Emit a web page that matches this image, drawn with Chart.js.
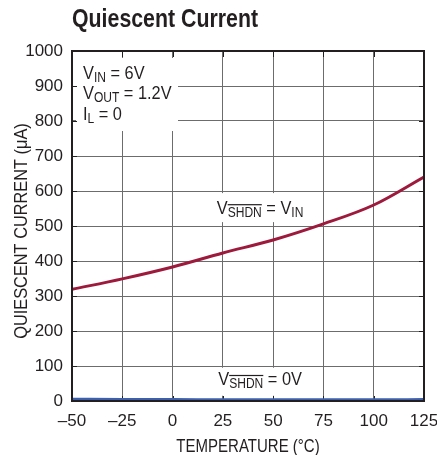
<!DOCTYPE html>
<html>
<head>
<meta charset="utf-8">
<script src="https://cdn.jsdelivr.net/npm/chart.js@4"></script>
<style>
  html, body { margin: 0; padding: 0; background: #fff; }
  #wrap { width: 437px; height: 455px; }
</style>
</head>
<body>
<div id="wrap"><canvas id="chart" width="437" height="455"></canvas></div>
<script>
const temps = [-50, -25, 0, 25, 50, 75, 100, 125];
const currentOn = [319, 349, 383, 423, 460, 506, 560, 640];
const currentOff = [6, 5, 5, 4, 4, 4, 4, 5];
const xTicks = [-50, -25, 0, 25, 50, 75, 100, 125];
const yTicks = [0, 100, 200, 300, 400, 500, 600, 700, 800, 900, 1000];

const ink = "#231f20";
const sans = "'Liberation Sans', Arial, sans-serif";

// text squeezed horizontally to look like the condensed face
function squeezed(ctx, text, x, y, font, sx, align) {
    ctx.save();
    ctx.font = font;
    ctx.textAlign = align || "left";
    ctx.translate(x, y);
    ctx.scale(sx, 1);
    ctx.fillText(text, 0, 0);
    ctx.restore();
}

// "V" + subscript + rest, condensed
function richText(ctx, parts, x, y, align) {
    const sx = 0.86;
    let total = 0;
    parts.forEach(p => {
        ctx.font = (p.sub ? "14px " : "19px ") + sans;
        p.w = ctx.measureText(p.t).width * sx;
        total += p.w;
    });
    let cx = align === "center" ? x - total / 2 : x;
    parts.forEach(p => {
        squeezed(ctx, p.t, cx, p.sub ? y + 3 : y, (p.sub ? "14px " : "19px ") + sans, sx, "left");
        if (p.bar) ctx.fillRect(cx, y - 10, p.w, 1.2);
        cx += p.w;
    });
}

const decor = {
    id: "decor",
    beforeDatasetsDraw(chart) {
        const {ctx, chartArea: a, scales: {x, y}} = chart;
        ctx.save();
        ctx.fillStyle = "#fff";
        // boxes behind the notes
        ctx.fillRect(a.left + 4, a.top + 7, 102, 73);
        ctx.fillRect(x.getPixelForValue(21), y.getPixelForValue(594), x.getPixelForValue(67) - x.getPixelForValue(21), 29);
        ctx.fillRect(x.getPixelForValue(21), y.getPixelForValue(95), x.getPixelForValue(67) - x.getPixelForValue(21), 28);
        // tick stubs on the frame
        ctx.strokeStyle = ink;
        ctx.lineWidth = 1;
        ctx.beginPath();
        xTicks.forEach(v => {
            const px = Math.round(x.getPixelForValue(v)) + 0.5;
            ctx.moveTo(px, a.top); ctx.lineTo(px, a.top + 6);
            ctx.moveTo(px, a.bottom); ctx.lineTo(px, a.bottom - 5);
        });
        yTicks.forEach(v => {
            const py = Math.round(y.getPixelForValue(v)) + 0.5;
            ctx.moveTo(a.left, py); ctx.lineTo(a.left + 5, py);
            ctx.moveTo(a.right, py); ctx.lineTo(a.right - 5, py);
        });
        ctx.stroke();
        ctx.restore();
    },
    afterDatasetsDraw(chart) {
        const {ctx, chartArea: a, scales: {x, y}} = chart;
        ctx.save();
        ctx.strokeStyle = ink;
        ctx.lineWidth = 2;
        ctx.strokeRect(a.left, a.top, a.right - a.left, a.bottom - a.top);

        ctx.fillStyle = ink;
        ctx.textBaseline = "alphabetic";
        const lx = a.left + 11;
        richText(ctx, [{t: "V"}, {t: "IN", sub: true}, {t: " = 6V"}], lx, y.getPixelForValue(920), "left");
        richText(ctx, [{t: "V"}, {t: "OUT", sub: true}, {t: " = 1.2V"}], lx, y.getPixelForValue(864), "left");
        richText(ctx, [{t: "I"}, {t: "L", sub: true}, {t: " = 0"}], lx, y.getPixelForValue(802), "left");

        richText(ctx, [{t: "V"}, {t: "SHDN", sub: true, bar: true}, {t: " = V"}, {t: "IN", sub: true}],
            x.getPixelForValue(43.5), y.getPixelForValue(534), "center");
        richText(ctx, [{t: "V"}, {t: "SHDN", sub: true, bar: true}, {t: " = 0V"}],
            x.getPixelForValue(43.5), y.getPixelForValue(46), "center");

        // title
        squeezed(ctx, "Quiescent Current", a.left, 27, "bold 26px " + sans, 0.82, "left");

        // axis titles
        squeezed(ctx, "TEMPERATURE (°C)", (a.left + a.right) / 2, 452, "19px " + sans, 0.79, "center");
        ctx.save();
        ctx.translate(27, (a.top + a.bottom) / 2 + 5);
        ctx.rotate(-Math.PI / 2);
        squeezed(ctx, "QUIESCENT CURRENT (μA)", 0, 0, "19px " + sans, 0.86, "center");
        ctx.restore();
        ctx.restore();
    }
};

const gridColor = "#6c6c6c";

new Chart(document.getElementById("chart"), {
    type: "line",
    plugins: [decor],
    data: {
        datasets: [
            {
                data: temps.map((t, i) => ({x: t, y: currentOn[i]})),
                borderColor: "#9e1a3c",
                borderWidth: 3,
                pointRadius: 0,
                cubicInterpolationMode: "monotone"
            },
            {
                data: temps.map((t, i) => ({x: t, y: currentOff[i]})),
                borderColor: "#3c5fae",
                borderWidth: 2.5,
                pointRadius: 0,
                cubicInterpolationMode: "monotone"
            }
        ]
    },
    options: {
        responsive: false,
        animation: false,
        layout: { padding: { top: 51, right: 13, left: 0, bottom: 0 } },
        plugins: { legend: { display: false }, tooltip: { enabled: false }, title: { display: false } },
        scales: {
            x: {
                type: "linear",
                min: -50, max: 125,
                afterBuildTicks: s => { s.ticks = xTicks.map(v => ({value: v})); },
                afterFit: s => { s.height = 54; s.paddingLeft = 0; s.paddingRight = 0; },
                grid: { color: gridColor, lineWidth: 1, drawTicks: false },
                border: { display: false },
                ticks: {
                    color: ink, padding: 10,
                    font: { family: sans, size: 17 },
                    callback: v => (v < 0 ? "\u2013" + Math.abs(v) : String(v))
                }
            },
            y: {
                min: 0, max: 1000,
                afterBuildTicks: s => { s.ticks = yTicks.map(v => ({value: v})); },
                afterFit: s => { s.width = 72; s.paddingTop = 0; s.paddingBottom = 0; },
                grid: { color: gridColor, lineWidth: 1, drawTicks: false },
                border: { display: false },
                ticks: {
                    color: ink, padding: 9,
                    font: { family: sans, size: 17 },
                    callback: v => String(v)
                }
            }
        }
    }
});
</script>
</body>
</html>
